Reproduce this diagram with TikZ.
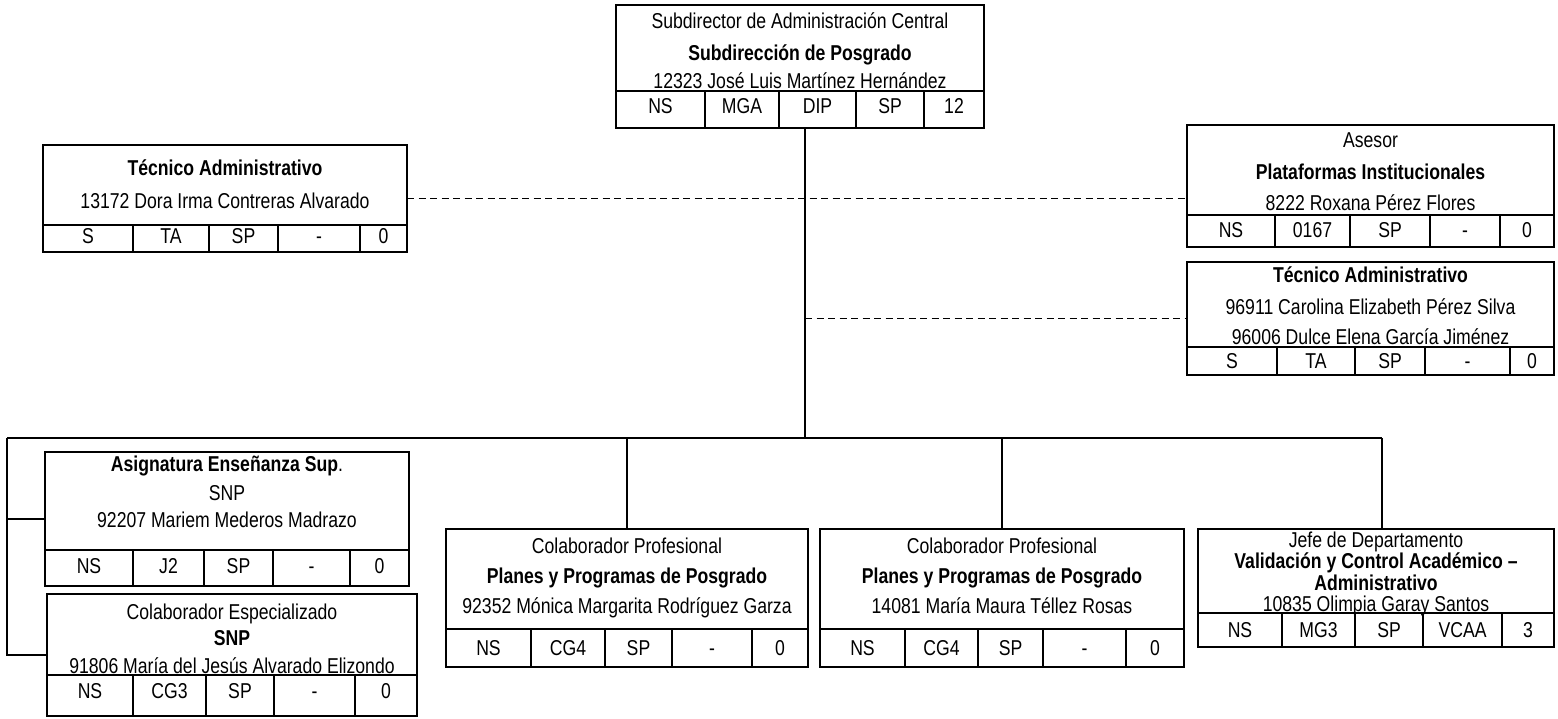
\documentclass[tikz,border=0pt]{standalone}
\usepackage{fontspec}
\setmainfont[FakeStretch=0.82]{Liberation Sans}
\tikzset{
  orgbox/.style={draw, line width=2.3pt, anchor=north west, inner sep=0pt, outer sep=0pt},
  inner/.style={line width=1.8pt},
  conn/.style={line width=1.8pt},
  dashconn/.style={line width=1.5pt, dash pattern=on 7pt off 4.5pt},
  txt/.style={anchor=base, inner sep=0pt, font=\fontsize{21.5}{25}\selectfont},
  btxt/.style={txt, font=\fontsize{21.5}{25}\selectfont\bfseries}
}
\newcommand\cellrow[8]{%
  \draw[inner] (#2,#4) -- (#3,#4);
  \foreach \dx in {#6} \draw[inner] (\dx,#4) -- (\dx,#5);
  \foreach \cx/\ct [count=\ci] in {#8} \node[txt] (#1-c\ci) at (\cx,#7) {\ct};
}
\begin{document}
\begin{tikzpicture}[x=1pt,y=-1pt]
\useasboundingbox (0,0) rectangle (1558,718);

% ---- top box
\node[orgbox, minimum width=368pt, minimum height=123pt] (T) at (616,5) {};
\node[txt]  (T-t1) at (800,28) {Subdirector de Administración Central};
\node[btxt] (T-t2) at (800,60) {Subdirección de Posgrado};
\node[txt]  (T-t3) at (800,88) {12323 José Luis Martínez Hernández};
\cellrow{T}{616}{984}{91}{128}{705,779,856,924}{113}{660.5/NS,742/MGA,817.5/DIP,890/SP,954/12}

% ---- left Tecnico Administrativo
\node[orgbox, minimum width=364pt, minimum height=107pt] (L) at (43,145) {};
\node[btxt] (L-t1) at (225,175) {Técnico Administrativo};
\node[txt]  (L-t2) at (225,208) {13172 Dora Irma Contreras Alvarado};
\cellrow{L}{43}{407}{225}{252}{133,209,278,360}{243}{88/S,171/TA,243.5/SP,319/-,383.5/0}

% ---- Asesor
\node[orgbox, minimum width=367pt, minimum height=122pt] (A) at (1187,125) {};
\node[txt]  (A-t1) at (1370.5,147) {Asesor};
\node[btxt] (A-t2) at (1370.5,179) {Plataformas Institucionales};
\node[txt]  (A-t3) at (1370.5,210) {8222 Roxana Pérez Flores};
\cellrow{A}{1187}{1554}{215}{247}{1275,1350,1430,1500}{237}{1231/NS,1312.5/0167,1390/SP,1465/-,1527/0}

% ---- right Tecnico Administrativo
\node[orgbox, minimum width=367pt, minimum height=113pt] (R) at (1187,262) {};
\node[btxt] (R-t1) at (1370.5,282) {Técnico Administrativo};
\node[txt]  (R-t2) at (1370.5,314) {96911 Carolina Elizabeth Pérez Silva};
\node[txt]  (R-t3) at (1370.5,344) {96006 Dulce Elena García Jiménez};
\cellrow{R}{1187}{1554}{347}{375}{1277,1355,1425,1510}{368}{1232/S,1316/TA,1390/SP,1467.5/-,1532/0}

% ---- Asignatura
\node[orgbox, minimum width=364pt, minimum height=134pt] (AS) at (45,452) {};
\node[txt]  (AS-t1) at (227,471) {\bfseries Asignatura Enseñanza Sup\mdseries.};
\node[txt]  (AS-t2) at (227,500) {SNP};
\node[txt]  (AS-t3) at (227,527) {92207 Mariem Mederos Madrazo};
\cellrow{AS}{45}{409}{550}{586}{133,204,273,350}{573}{89/NS,168.5/J2,238.5/SP,311.5/-,379.5/0}

% ---- Colaborador Especializado
\node[orgbox, minimum width=370pt, minimum height=122pt] (CE) at (47,594) {};
\node[txt]  (CE-t1) at (232,619) {Colaborador Especializado};
\node[btxt] (CE-t2) at (232,645) {SNP};
\node[txt]  (CE-t3) at (232,673) {91806 María del Jesús Alvarado Elizondo};
\cellrow{CE}{47}{417}{675}{716}{133,206,274,355}{698}{90/NS,169.5/CG3,240/SP,314.5/-,386/0}

% ---- Colaborador Profesional 1
\node[orgbox, minimum width=362pt, minimum height=138pt] (P1) at (446,529) {};
\node[txt]  (P1-t1) at (627,553) {Colaborador Profesional};
\node[btxt] (P1-t2) at (627,583) {Planes y Programas de Posgrado};
\node[txt]  (P1-t3) at (627,613) {92352 Mónica Margarita Rodríguez Garza};
\cellrow{P1}{446}{808}{629}{667}{531,605,672,752}{655}{488.5/NS,568/CG4,638.5/SP,712/-,780/0}

% ---- Colaborador Profesional 2
\node[orgbox, minimum width=364pt, minimum height=138pt] (P2) at (820,529) {};
\node[txt]  (P2-t1) at (1002,553) {Colaborador Profesional};
\node[btxt] (P2-t2) at (1002,583) {Planes y Programas de Posgrado};
\node[txt]  (P2-t3) at (1002,613) {14081 María Maura Téllez Rosas};
\cellrow{P2}{820}{1184}{629}{667}{905,978,1043,1126}{655}{862.5/NS,941.5/CG4,1010.5/SP,1084.5/-,1155/0}

% ---- Jefe de Departamento
\node[orgbox, minimum width=356pt, minimum height=118pt] (J) at (1198,529) {};
\node[txt, align=center, font=\fontsize{21.5}{19}\selectfont] (J-t1) at (1376,590)
  {Jefe de Departamento\\\textbf{Validación y Control Académico –}\\\textbf{Administrativo}};
\node[txt]  (J-t4) at (1376,611) {10835 Olimpia Garay Santos};
\cellrow{J}{1198}{1554}{613}{647}{1282,1355,1423,1502}{637}{1240/NS,1318.5/MG3,1389/SP,1462.5/VCAA,1528/3}

% ---- connectors
\coordinate (busC) at (805,438);
\coordinate (bl) at (7,438);
\coordinate (bJ) at (1382,438);
\draw[conn] (T.south -| busC) -- (busC);
\draw[conn] (bl) -- (bJ);
\draw[conn] (bJ) -- (bJ |- J.north);
\draw[conn] (P1.north |- busC) -- (P1.north);
\draw[conn] (P2.north |- busC) -- (P2.north);
\draw[conn] (bl) -- (bl |- CE.west) -- (CE.west);
\draw[conn] (bl |- AS.west) -- (AS.west);
\draw[dashconn] (L.east) -- (L.east -| A.west);
\draw[dashconn] (R.west -| busC) -- (R.west);
\end{tikzpicture}
\end{document}
